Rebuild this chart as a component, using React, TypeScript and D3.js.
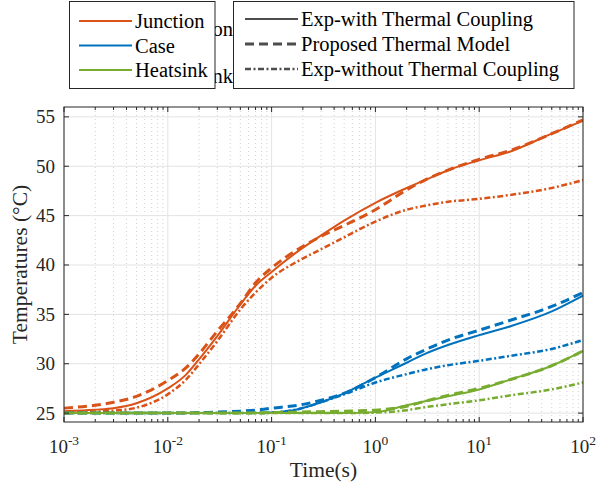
import React from 'react'
import * as d3 from 'd3'

/* svg size and the plot box (MATLAB style figure) */
const width = 596
const height = 492
const margin = { top: 107, right: 13, bottom: 70, left: 64 }
const font = '"Liberation Serif", "Times New Roman", serif'

/* sample times (s) */
const times = [0.001, 0.002, 0.003, 0.005, 0.01, 0.015, 0.02, 0.03, 0.05, 0.07, 0.1, 0.18, 0.3, 0.5, 1, 2, 3, 5, 10, 20, 50, 100]

/* junction */
const junctionExp = [25.2, 25.35, 25.5, 26.0, 27.5, 28.9, 30.45, 32.8, 36.0, 37.9, 39.3, 41.4, 43.0, 44.5, 46.3, 47.8, 48.6, 49.6, 50.6, 51.5, 53.3, 54.6]
const junctionModel = [25.5, 25.8, 26.1, 26.7, 28.3, 29.6, 31.0, 33.3, 36.1, 38.2, 39.7, 41.6, 42.9, 44.0, 45.6, 47.6, 48.6, 49.6, 50.7, 51.6, 53.3, 54.7]
const junctionNoCoupling = [25.1, 25.15, 25.25, 25.55, 26.9, 28.4, 29.95, 32.3, 35.5, 37.2, 38.7, 40.4, 41.6, 42.8, 44.4, 45.6, 46.0, 46.4, 46.7, 47.1, 47.8, 48.6]
/* case */
const caseExp = [25, 25, 25, 25, 25, 25, 25, 25, 25, 25, 25.05, 25.4, 26.1, 27.0, 28.6, 30.1, 31.0, 31.9, 32.9, 33.8, 35.3, 36.9]
const caseModel = [25, 25, 25, 25, 25, 25, 25.05, 25.1, 25.2, 25.3, 25.5, 25.8, 26.3, 27.0, 28.6, 30.5, 31.4, 32.4, 33.4, 34.4, 35.8, 37.2]
const caseNoCoupling = [25, 25, 25, 25, 25, 25, 25, 25, 25, 25, 25.05, 25.4, 26.1, 26.9, 28.1, 28.95, 29.4, 29.85, 30.3, 30.8, 31.5, 32.4]
/* heatsink */
const heatsinkExp = [25, 25, 25, 25, 25, 25, 25, 25, 25, 25, 25, 25, 25, 25, 25.1, 25.8, 26.2, 26.7, 27.4, 28.4, 29.8, 31.3]
const heatsinkModel = [25, 25, 25, 25, 25, 25, 25, 25, 25, 25, 25.05, 25.1, 25.15, 25.2, 25.3, 25.7, 26.2, 26.8, 27.5, 28.4, 29.8, 31.3]
const heatsinkNoCoupling = [25, 25, 25, 25, 25, 25, 25, 25, 25, 25, 25, 25, 25, 25, 25.05, 25.3, 25.6, 25.9, 26.3, 26.8, 27.4, 28.1]

const nodes = ['Junction', 'Case', 'Heatsink']
const colors = ['#D95319', '#0072BD', '#77AC30']
const styles = ['Exp-with Thermal Coupling', 'Proposed Thermal Model', 'Exp-without Thermal Coupling']
const yTicks = [25, 30, 35, 40, 45, 50, 55]
const xExponents = [-3, -2, -1, 0, 1, 2]

/* line style per model: solid / dashed / dash-dot */
const dash = ['none', '9,5', '6,2.5,2,2.5']
const strokeW = [2, 3, 2.5]

const series = [
    [junctionExp, junctionModel, junctionNoCoupling],
    [caseExp, caseModel, caseNoCoupling],
    [heatsinkExp, heatsinkModel, heatsinkNoCoupling],
]

const x = d3
    .scaleLog()
    .domain([1e-3, 1e2])
    .range([margin.left, width - margin.right])
const y = d3
    .scaleLinear()
    .domain([24.1, 56])
    .range([height - margin.bottom, margin.top])

const line = d3
    .line<number>()
    .x((_, i) => x(times[i]))
    .y((d) => y(d))
    .curve(d3.curveMonotoneX)

/* minor ticks 2..9 in every decade */
const minor: number[] = []
xExponents.slice(0, -1).forEach((e) => {
    for (let k = 2; k <= 9; k++) minor.push(k * Math.pow(10, e))
})

const App = () => {
    const [x0, x1] = x.range()
    const [y0, y1] = y.range()
    const axisColor = '#262626'
    return (
        <svg
            width={width}
            height={height}
            style={{ position: 'absolute', left: 0, top: 0, background: '#fff' }}
            fontFamily={font}
        >
            <defs>
                <clipPath id="plot">
                    <rect x={x0} y={y1} width={x1 - x0} height={y0 - y1} />
                </clipPath>
            </defs>
            {/* grid */}
            {minor.map((t, i) => (
                <line key={'mg' + i} x1={x(t)} x2={x(t)} y1={y1} y2={y0} stroke="#c4c4c4" strokeWidth={0.8} strokeDasharray="1,3" />
            ))}
            {xExponents.map((e) => (
                <line key={'xg' + e} x1={x(Math.pow(10, e))} x2={x(Math.pow(10, e))} y1={y1} y2={y0} stroke="#e3e3e3" strokeWidth={1} />
            ))}
            {yTicks.map((v) => (
                <line key={'yg' + v} x1={x0} x2={x1} y1={y(v)} y2={y(v)} stroke="#e3e3e3" strokeWidth={1} />
            ))}

            {/* curves */}
            <g clipPath="url(#plot)">
                {series.map((group, gi) =>
                    group.map((vals, si) => (
                        <path
                            key={gi + '-' + si}
                            d={line(vals) || ''}
                            fill="none"
                            stroke={colors[gi]}
                            strokeWidth={strokeW[si]}
                            strokeDasharray={dash[si]}
                        />
                    ))
                )}
            </g>

            {/* axes box and ticks */}
            <rect x={x0} y={y1} width={x1 - x0} height={y0 - y1} fill="none" stroke={axisColor} strokeWidth={1} />
            {xExponents.map((e) => (
                <g key={'xt' + e}>
                    <line x1={x(Math.pow(10, e))} x2={x(Math.pow(10, e))} y1={y0} y2={y0 - 5} stroke={axisColor} />
                    <line x1={x(Math.pow(10, e))} x2={x(Math.pow(10, e))} y1={y1} y2={y1 + 5} stroke={axisColor} />
                    <text x={x(Math.pow(10, e))} y={453} textAnchor="middle" fontSize={19} fill={axisColor}>
                        <tspan>10</tspan>
                        <tspan dy={-8} fontSize={13.5}>{e}</tspan>
                    </text>
                </g>
            ))}
            {minor.map((t, i) => (
                <g key={'mt' + i}>
                    <line x1={x(t)} x2={x(t)} y1={y0} y2={y0 - 3} stroke={axisColor} />
                    <line x1={x(t)} x2={x(t)} y1={y1} y2={y1 + 3} stroke={axisColor} />
                </g>
            ))}
            {yTicks.map((v) => (
                <g key={'yt' + v}>
                    <line x1={x0} x2={x0 + 5} y1={y(v)} y2={y(v)} stroke={axisColor} />
                    <line x1={x1} x2={x1 - 5} y1={y(v)} y2={y(v)} stroke={axisColor} />
                    <text x={55} y={y(v) + 6.5} textAnchor="end" fontSize={19} fill={axisColor}>
                        {v}
                    </text>
                </g>
            ))}

            {/* axis titles */}
            <text x={(x0 + x1) / 2} y={477} textAnchor="middle" fontSize={21.5} fill={axisColor}>
                Time(s)
            </text>
            <text
                transform={`translate(27, ${(y0 + y1) / 2}) rotate(-90)`}
                textAnchor="middle"
                fontSize={21.5}
                fill={axisColor}
            >
                Temperatures (°C)
            </text>

            {/* legend left behind, mostly covered */}
            <text x={233} y={36} textAnchor="end" fontSize={20.5} fill="#000">Junction</text>
            <text x={233} y={83} textAnchor="end" fontSize={20.5} fill="#000">Heatsink</text>

            {/* node legend */}
            <rect x={69.5} y={1.5} width={145.5} height={87} fill="#fff" stroke={axisColor} strokeWidth={1} />
            {nodes.map((n, i) => (
                <g key={n}>
                    <line x1={79} x2={132} y1={21 + i * 24.5} y2={21 + i * 24.5} stroke={colors[i]} strokeWidth={2} />
                    <text x={135} y={28 + i * 24.5} fontSize={20.5} fill="#000">{n}</text>
                </g>
            ))}

            {/* model legend */}
            <rect x={233.5} y={1.5} width={340.5} height={87} fill="#fff" stroke={axisColor} strokeWidth={1} />
            {styles.map((s, i) => (
                <g key={s}>
                    <line
                        x1={245}
                        x2={298}
                        y1={19 + i * 25}
                        y2={19 + i * 25}
                        stroke="#4d4d4d"
                        strokeWidth={strokeW[i]}
                        strokeDasharray={dash[i]}
                    />
                    <text x={301} y={26 + i * 25} fontSize={20.5} fill="#000">{s}</text>
                </g>
            ))}
        </svg>
    )
}

export default App
